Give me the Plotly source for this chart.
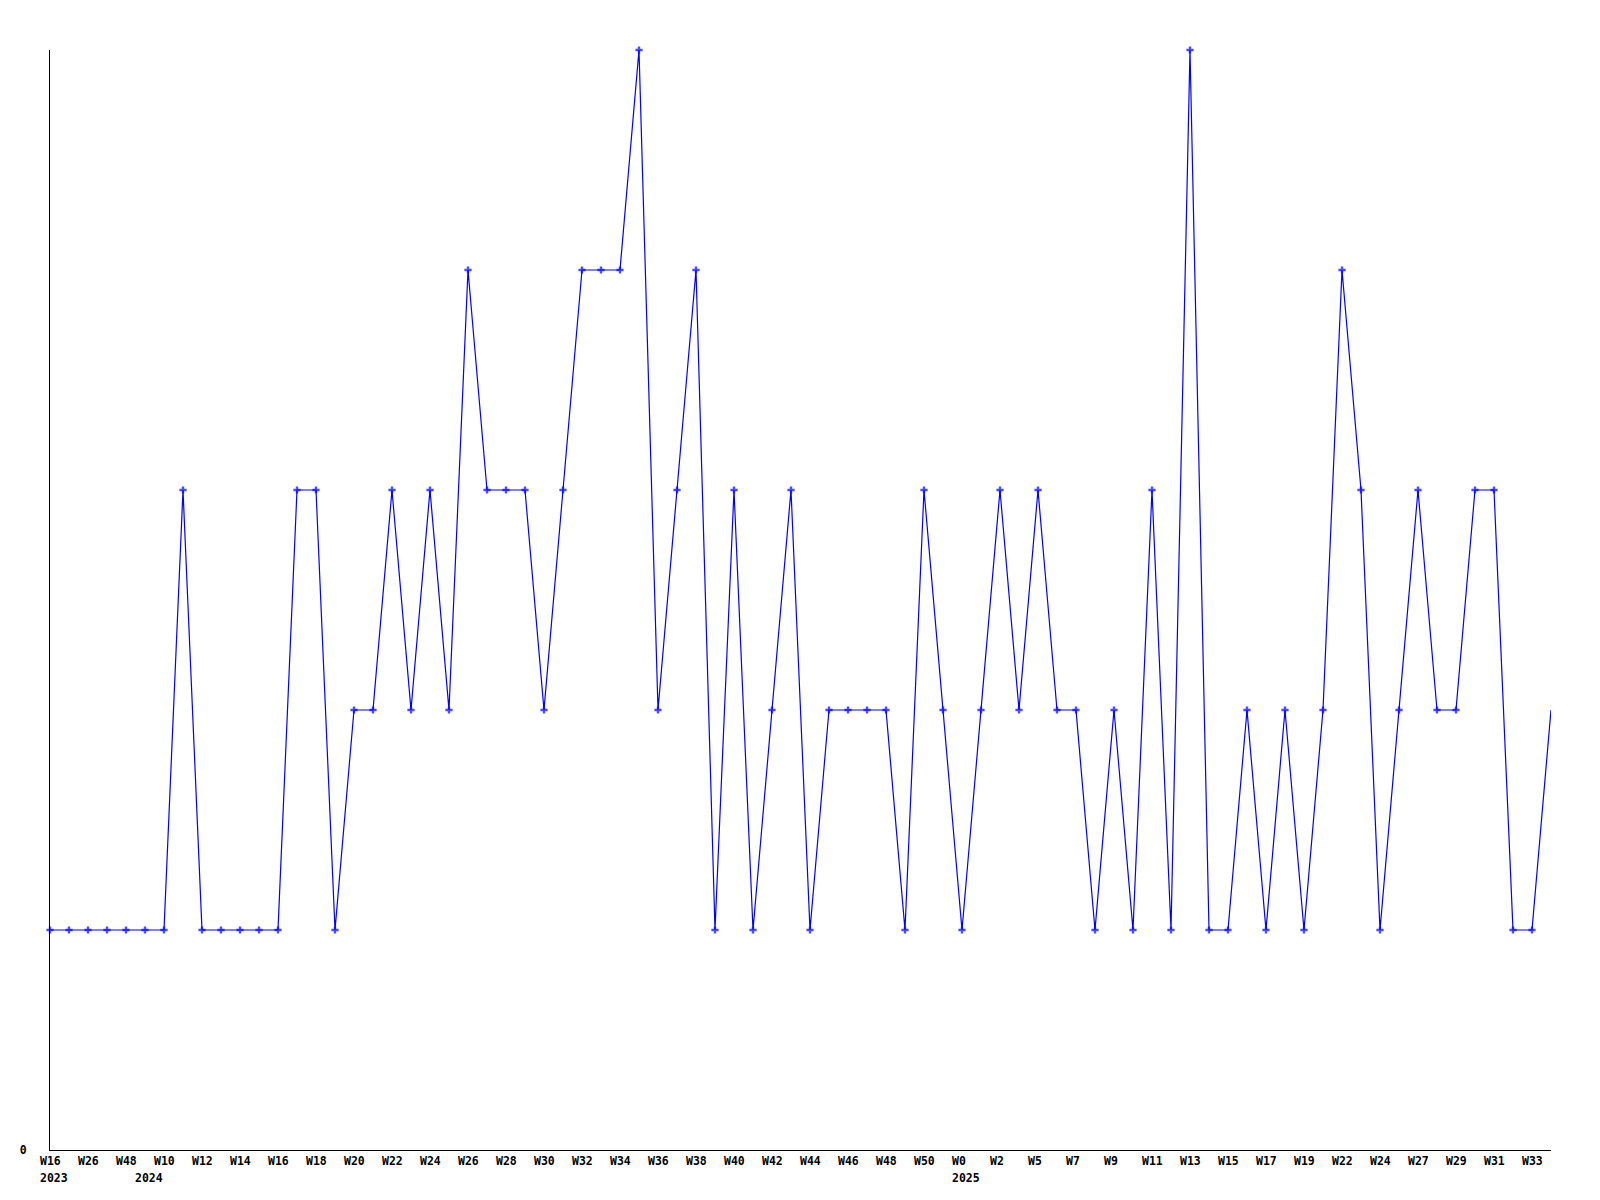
import plotly.graph_objects as go

# Weekly values (one point per week shown)
values = [1, 1, 1, 1, 1, 1, 1, 3, 1, 1,
          1, 1, 1, 3, 3, 1, 2, 2, 3, 2,
          3, 2, 4, 3, 3, 3, 2, 3, 4, 4,
          4, 5, 2, 3, 4, 1, 3, 1, 2, 3,
          1, 2, 2, 2, 2, 1, 3, 2, 1, 2,
          3, 2, 3, 2, 2, 1, 2, 1, 3, 1,
          5, 1, 1, 2, 1, 2, 1, 2, 4, 3,
          1, 2, 3, 2, 2, 3, 3, 1, 1, 2]

# Tick labels shown under every second week
week_labels = ["W16", "W26", "W48", "W10", "W12", "W14", "W16", "W18", "W20", "W22",
               "W24", "W26", "W28", "W30", "W32", "W34", "W36", "W38", "W40", "W42",
               "W44", "W46", "W48", "W50", "W0", "W2", "W5", "W7", "W9", "W11",
               "W13", "W15", "W17", "W19", "W22", "W24", "W27", "W29", "W31", "W33"]

# Year markers (label and the week index where the year begins)
year_labels = ["2023", "2024", "2025"]
year_index = [0, 5, 48]

n = len(values)
x = list(range(n))
tick_positions = list(range(0, n, 2))[:len(week_labels)]

FONT = dict(family="DejaVu Sans Mono", size=11.5, color="black", weight="bold")

marker_sizes = [6] * (n - 1) + [0]

fig = go.Figure()
fig.add_trace(go.Scatter(
    x=x, y=values, mode="lines+markers",
    line=dict(color="#0000ff", width=1.2),
    marker=dict(symbol="cross", size=marker_sizes, color="#0000ff", line=dict(width=0)),
    cliponaxis=False,
    hoverinfo="skip",
    showlegend=False,
))

for label, idx in zip(year_labels, year_index):
    fig.add_annotation(
        x=idx, y=0, xref="x", yref="y", text=label, showarrow=False,
        xanchor="left", yanchor="middle", xshift=-11, yshift=-28,
        borderpad=0, font=FONT,
    )

# page body adds an 8px margin, so the figure is 8px smaller and offset
fig.update_layout(
    width=1592, height=1192,
    margin=dict(l=42, r=49, t=42, b=50, pad=0),
    paper_bgcolor="white", plot_bgcolor="white",
    font=FONT,
    xaxis=dict(
        range=[0, n - 1], showgrid=False, zeroline=False,
        showline=True, linecolor="black", linewidth=1,
        tickvals=tick_positions, ticktext=week_labels,
        ticks="outside", ticklen=0,
        ticklabelposition="outside right", ticklabelshift=-11,
        ticklabelstandoff=0, tickfont=FONT,
    ),
    yaxis=dict(
        range=[0, 5], showgrid=False, zeroline=False,
        showline=True, linecolor="black", linewidth=1,
        tickvals=[0], ticktext=["0"],
        ticks="outside", ticklen=0, ticklabelstandoff=20, tickfont=FONT,
    ),
)

fig.write_html("out.html")
